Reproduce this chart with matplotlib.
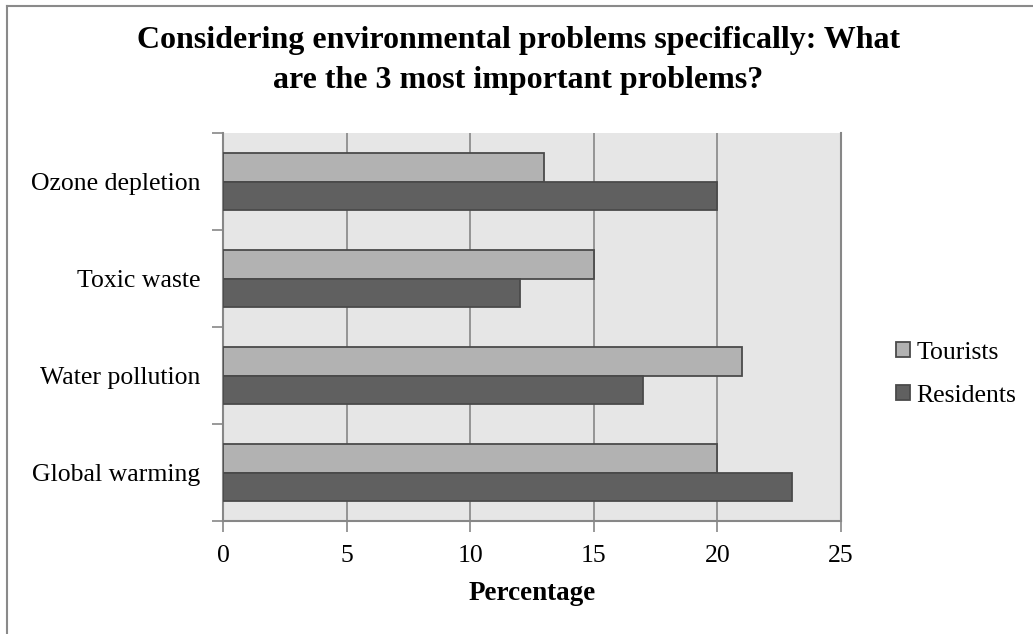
import matplotlib.pyplot as plt
import numpy as np
from matplotlib.lines import Line2D

# data (percent)
categories = ["Global warming", "Water pollution", "Toxic waste", "Ozone depletion"]
tourists = [20, 21, 15, 13]
residents = [23, 17, 12, 20]
series_names = ["Tourists", "Residents"]
x_ticks = [0, 5, 10, 15, 20, 25]

TOURIST_COLOR = "#b2b2b2"
RESIDENT_COLOR = "#606060"
EDGE_COLOR = "#4a4a4a"
GRID_COLOR = "#878787"

plt.rcParams["font.family"] = ["Liberation Serif", "DejaVu Serif"]

fig = plt.figure(figsize=(10.33, 6.34), dpi=100)
ax = fig.add_axes([223 / 1033, 113 / 634, 618 / 1033, 388 / 634])
ax.set_facecolor("#e6e6e6")

pos = np.arange(len(categories))
bar_h = 0.29
ax.barh(pos + bar_h / 2, tourists, height=bar_h, color=TOURIST_COLOR,
        edgecolor=EDGE_COLOR, linewidth=1.3, label=series_names[0], zorder=3)
ax.barh(pos - bar_h / 2, residents, height=bar_h, color=RESIDENT_COLOR,
        edgecolor=EDGE_COLOR, linewidth=1.3, label=series_names[1], zorder=3)

ax.set_xlim(0, 25)
ax.set_ylim(-0.5, len(categories) - 0.5)
ax.set_xticks(x_ticks)
ax.set_yticks(np.arange(len(categories) + 1) - 0.5, minor=False)
ax.set_yticklabels([])
ax.set_yticks(pos, minor=True)
ax.set_yticklabels(categories, minor=True)
ax.tick_params(axis="y", which="minor", length=0, labelsize=18.5, pad=16.5)
ax.tick_params(axis="y", which="major", length=8, width=1.2, color=GRID_COLOR)
ax.tick_params(axis="x", length=8, width=1.2, color=GRID_COLOR, labelsize=18.5, pad=9)

ax.grid(axis="x", color=GRID_COLOR, linewidth=1.2, zorder=0)
ax.set_axisbelow(True)
for side in ["left", "bottom", "right"]:
    ax.spines[side].set_color(GRID_COLOR)
    ax.spines[side].set_linewidth(1.5)
ax.spines["top"].set_visible(False)

ax.set_xlabel("Percentage", fontsize=19.5, fontweight="bold", labelpad=10)
fig.text(0.502, 0.905, "Considering environmental problems specifically: What\nare the 3 most important problems?",
         ha="center", va="center", fontsize=23, fontweight="bold", linespacing=1.48)

handles = [
    plt.Rectangle((0, 0), 1, 1, facecolor=TOURIST_COLOR, edgecolor=EDGE_COLOR, linewidth=1.3),
    plt.Rectangle((0, 0), 1, 1, facecolor=RESIDENT_COLOR, edgecolor=EDGE_COLOR, linewidth=1.3),
]
fig.legend(handles, series_names, loc="center left", bbox_to_anchor=(0.867, 0.41),
           frameon=False, fontsize=18.5, handlelength=0.55, handleheight=0.55,
           handletextpad=0.27, labelspacing=0.82, borderpad=0, borderaxespad=0)

# outer chart border (top and left edges visible in the reference)
fig.add_artist(Line2D([7 / 1033, 1.0], [1 - 6 / 634, 1 - 6 / 634], color="#8a8a8a", linewidth=1.5))
fig.add_artist(Line2D([7 / 1033, 7 / 1033], [0.0, 1 - 6 / 634], color="#8a8a8a", linewidth=1.5))

fig.savefig("out.png", dpi=100)
